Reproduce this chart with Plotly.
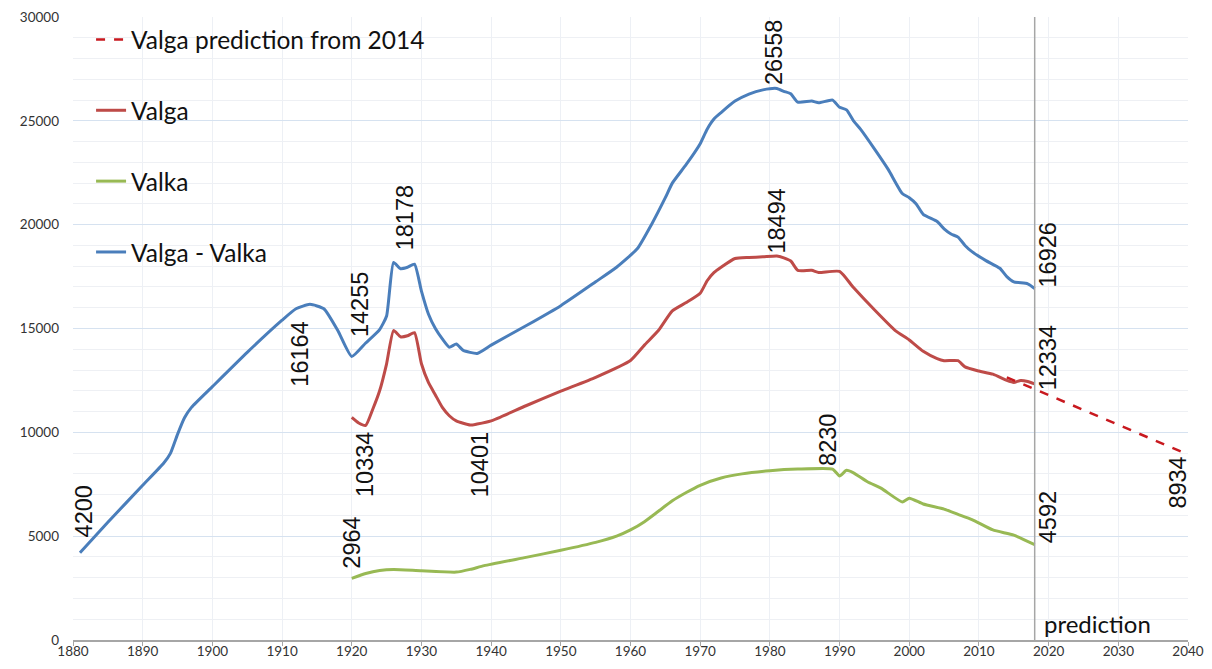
import plotly.graph_objects as go

# ---------------- data ----------------
valga_valka_years = [1881, 1885, 1890, 1893, 1894, 1895, 1896, 1897, 1900, 1905, 1910, 1912, 1914, 1916, 1918,
                     1920, 1922, 1924, 1925, 1926, 1927, 1928, 1929, 1930, 1931, 1932, 1933, 1934, 1935, 1936,
                     1938, 1940, 1945, 1950, 1955, 1958, 1961, 1963, 1965, 1966, 1968, 1970, 1971, 1972, 1973,
                     1975, 1977, 1979, 1981, 1982, 1983, 1984, 1986, 1987, 1989, 1990, 1991, 1992, 1993, 1995,
                     1997, 1999, 2000, 2001, 2002, 2004, 2005, 2006, 2007, 2008, 2009, 2011, 2013, 2014, 2015,
                     2017, 2018]
valga_valka_vals = [4200, 5670, 7450, 8510, 9000, 9900, 10700, 11200, 12200, 13850, 15400, 15950, 16164, 15950, 14900,
                    13650, 14300, 14950, 15600, 18178, 17880, 17950, 18100, 16800, 15700, 15000, 14500, 14100, 14250, 13950,
                    13800, 14200, 15130, 16100, 17250, 17950, 18850, 20000, 21300, 22000, 22900, 23900, 24600, 25100, 25400,
                    25950, 26290, 26490, 26558, 26420, 26300, 25900, 25950, 25870, 26000, 25650, 25530, 25000, 24600, 23650,
                    22650, 21500, 21300, 21000, 20500, 20150, 19800, 19550, 19400, 19000, 18700, 18270, 17900, 17500, 17250,
                    17150, 16926]

valga_years = [1920, 1921, 1922, 1923, 1924, 1925, 1926, 1927, 1928, 1929, 1930, 1931, 1932, 1933, 1934, 1935,
               1937, 1938, 1940, 1945, 1950, 1955, 1960, 1962, 1964, 1966, 1968, 1970, 1971, 1972, 1973, 1975,
               1977, 1979, 1981, 1982, 1983, 1984, 1986, 1987, 1990, 1992, 1995, 1998, 2000, 2002, 2004, 2005,
               2007, 2008, 2010, 2012, 2014, 2015, 2016, 2017, 2018]
valga_vals = [10720, 10450, 10334, 11100, 12000, 13300, 14900, 14600, 14650, 14800, 13300, 12400, 11800, 11200, 10800, 10550,
              10350, 10401, 10550, 11280, 11980, 12650, 13460, 14200, 14900, 15850, 16250, 16700, 17300, 17700, 17950, 18370,
              18420, 18450, 18494, 18400, 18250, 17800, 17800, 17700, 17750, 16970, 15900, 14900, 14450, 13900, 13550, 13450,
              13450, 13150, 12950, 12800, 12500, 12400, 12500, 12450, 12334]

valka_years = [1920, 1922, 1924, 1926, 1930, 1935, 1937, 1939, 1945, 1950, 1955, 1958, 1960, 1962, 1964, 1966,
               1968, 1970, 1973, 1976, 1980, 1984, 1989, 1990, 1991, 1992, 1994, 1996, 1999, 2000, 2002, 2005,
               2007, 2009, 2012, 2015, 2018]
valka_vals = [2964, 3200, 3350, 3400, 3330, 3270, 3400, 3580, 3980, 4320, 4700, 5000, 5300, 5700, 6200, 6700,
              7100, 7450, 7800, 8000, 8150, 8230, 8230, 7900, 8170, 8050, 7620, 7300, 6650, 6830, 6550, 6300,
              6050, 5800, 5300, 5050, 4592]

prediction_years = [2014, 2040]
prediction_vals = [12650, 8934]

prediction_start = 2018

x_ticks = list(range(1880, 2041, 10))
y_ticks = list(range(0, 30001, 5000))

# value labels: (text, year, value)
value_labels = [
    ("4200", 1881.6, 6200), ("16164", 1912.6, 13750), ("14255", 1921.1, 16150),
    ("18178", 1927.6, 20340), ("10334", 1922.0, 8460), ("10401", 1938.4, 8460),
    ("2964", 1920.1, 4710), ("26558", 1980.6, 28270), ("18494", 1981.0, 20190),
    ("8230", 1988.3, 9620), ("16926", 2019.9, 18560), ("12334", 2019.9, 13610),
    ("4592", 2019.9, 5910), ("8934", 2038.6, 7590),
]

# ---------------- figure ----------------
BLUE = "#4A7EBB"
RED = "#BE4B48"
GREEN = "#98B954"
DRED = "#C8191F"
SANS = "Lato, 'Open Sans', sans-serif"

fig = go.Figure()
fig.add_trace(go.Scatter(x=valga_years, y=valga_vals, mode="lines", name="Valga",
                         line=dict(color=RED, width=3, shape="spline", smoothing=0.5),
                         legendgroup="b", legendrank=2))
fig.add_trace(go.Scatter(x=valka_years, y=valka_vals, mode="lines", name="Valka",
                         line=dict(color=GREEN, width=3, shape="spline", smoothing=0.5),
                         legendgroup="c", legendrank=3))
fig.add_trace(go.Scatter(x=valga_valka_years, y=valga_valka_vals, mode="lines", name="Valga - Valka",
                         line=dict(color=BLUE, width=3, shape="spline", smoothing=0.5),
                         legendgroup="d", legendrank=4))
fig.add_trace(go.Scatter(x=prediction_years, y=prediction_vals, mode="lines", name="Valga prediction from 2014",
                         line=dict(color=DRED, width=2.5, dash="dash"),
                         legendgroup="a", legendrank=1))

fig.add_shape(type="line", xref="x", yref="paper", x0=prediction_start, x1=prediction_start, y0=0, y1=1,
              line=dict(color="#A6A6A6", width=1.5))

for text, xv, yv in value_labels:
    fig.add_annotation(x=xv, y=yv, text=text, textangle=-90, showarrow=False,
                       xanchor="center", yanchor="middle",
                       font=dict(family="'Liberation Sans', Arial, sans-serif", size=23.5, color="#111111"))

fig.add_annotation(x=prediction_start + 1, y=800, text="prediction", showarrow=False,
                   xanchor="left", yanchor="middle", font=dict(family=SANS, size=24, color="#111111"))

fig.update_layout(
    width=1196, height=653,
    margin=dict(l=65, r=16, t=9, b=21, autoexpand=False),
    paper_bgcolor="white", plot_bgcolor="white",
    showlegend=True,
    legend=dict(x=0.0162, y=1.0, xanchor="left", yanchor="top", bgcolor="rgba(0,0,0,0)",
                font=dict(family=SANS, size=24.5, color="#111111"),
                tracegroupgap=36, traceorder="grouped", itemwidth=30),
    font=dict(family=SANS, color="#333333"),
)
fig.update_xaxes(range=[1880, 2040], tickmode="array", tickvals=x_ticks,
                 showgrid=True, gridcolor="#EDF0F5", gridwidth=1,
                 showline=True, linecolor="#A6A6A6", linewidth=1.5,
                 ticks="outside", ticklen=4, tickcolor="#A6A6A6",
                 automargin=False, ticklabeloverflow="allow", ticklabelstandoff=-6,
                 tickfont=dict(family=SANS, size=13.5, color="#333333"), zeroline=False)
fig.update_yaxes(range=[0, 30000], tickmode="array", tickvals=y_ticks, tickformat="d",
                 showgrid=True, gridcolor="#D6E2F0", gridwidth=1,
                 minor=dict(dtick=1000, showgrid=True, gridcolor="#EEF0F4", gridwidth=1),
                 showline=False, ticks="", ticklabelstandoff=13,
                 automargin=False, ticklabeloverflow="allow",
                 tickfont=dict(family=SANS, size=13.5, color="#333333"), zeroline=False)

fig.write_html("out.html")
